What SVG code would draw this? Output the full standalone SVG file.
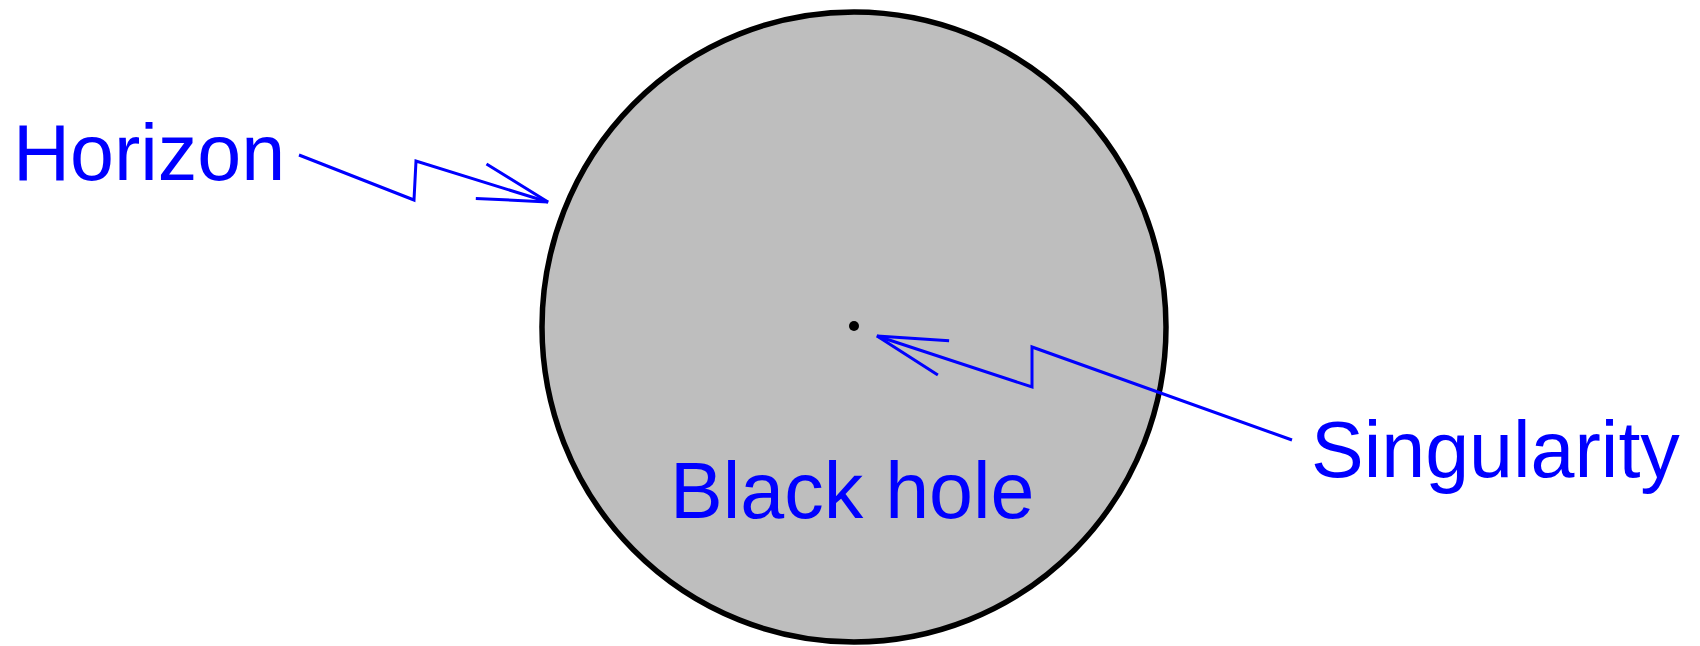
<svg xmlns="http://www.w3.org/2000/svg" width="1700" height="646" viewBox="0 0 1700 646">
<defs>
<style>
.lbl{font-family:"Liberation Sans",Arial,sans-serif;font-size:79px;fill:#0000ff}
.conn{fill:none;stroke:#0000ff;stroke-width:3;stroke-linejoin:miter}
</style>
<marker id="head" markerUnits="userSpaceOnUse" orient="auto" markerWidth="80" markerHeight="50" refX="0" refY="0" viewBox="-75 -25 80 50" overflow="visible">
<path d="M-70,-18 L0,0 L-70,18" fill="none" stroke="#0000ff" stroke-width="3"/>
</marker>
</defs>
<rect width="1700" height="646" fill="#ffffff"/>
<g id="black-hole">
<ellipse cx="854" cy="327" rx="312" ry="315" fill="#bebebe" stroke="#000000" stroke-width="5.5"/>
<text class="lbl" x="670" y="518">Black hole</text>
</g>
<g id="singularity">
<circle cx="854" cy="326" r="5" fill="#000000"/>
</g>
<g id="horizon-label">
<text class="lbl" x="13" y="180">Horizon</text>
</g>
<g id="singularity-label">
<text class="lbl" x="1311" y="477">Singularity</text>
</g>
<g id="connectors">
<path class="conn" d="M299,155 L414,200 L416,161 L548,202" marker-end="url(#head)"/>
<path class="conn" d="M1292,440 L1032,347 L1032,387 L877,336" marker-end="url(#head)"/>
</g>
</svg>
